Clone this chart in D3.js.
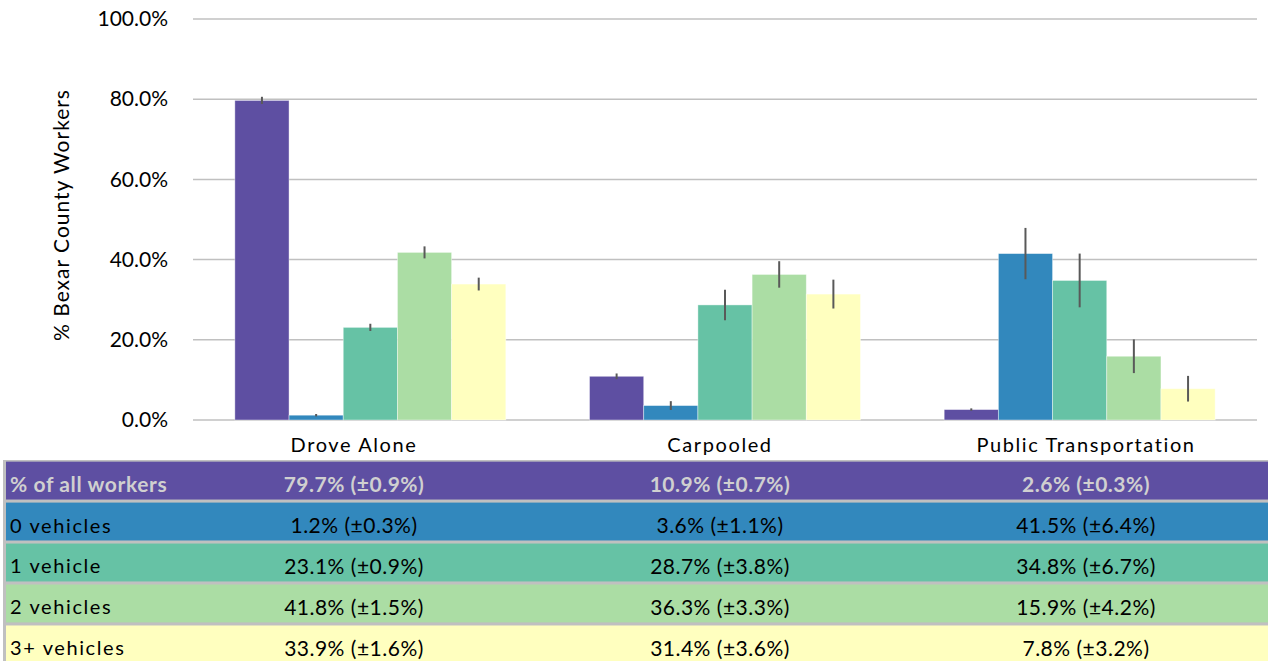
<!DOCTYPE html>
<html>
<head>
<meta charset="utf-8">
<script src="https://cdn.jsdelivr.net/npm/d3@7"></script>
<style>
  body { margin: 0; background: #fff; }
  svg { display: block; font-family: Lato, 'Open Sans', sans-serif; }
</style>
</head>
<body>
<svg width="1268" height="661"></svg>
<script>
// categories + series
const categories = ['Drove Alone', 'Carpooled', 'Public Transportation']
const series = ['% of all workers', '0 vehicles', '1 vehicle', '2 vehicles', '3+ vehicles']
const values = [
  [79.7, 1.2, 23.1, 41.8, 33.9],
  [10.9, 3.6, 28.7, 36.3, 31.4],
  [2.6, 41.5, 34.8, 15.9, 7.8]
]
const moe = [
  [0.9, 0.3, 0.9, 1.5, 1.6],
  [0.7, 1.1, 3.8, 3.3, 3.6],
  [0.3, 6.4, 6.7, 4.2, 3.2]
]
const yTicks = [0, 20, 40, 60, 80, 100]
const colors = ['#5e4fa2', '#3288bd', '#66c2a5', '#abdda4', '#ffffbf']

const svg = d3.select('svg')
const plot = {left: 193, right: 1257, top: 19, bottom: 420}

const x0 = d3.scaleBand()
  .domain(categories)
  .range([plot.left, plot.right])
  .paddingInner(0.236)
  .paddingOuter(0.118)

const x1 = d3.scaleBand()
  .domain(series)
  .range([0, x0.bandwidth()])

const y = d3.scaleLinear()
  .domain([0, 100])
  .range([plot.bottom, plot.top])

const z = d3.scaleOrdinal().domain(series).range(colors)

// gridlines
svg.append('g')
  .selectAll('line')
  .data(yTicks)
  .enter().append('line')
    .attr('x1', plot.left)
    .attr('x2', plot.right)
    .attr('y1', d => y(d))
    .attr('y2', d => y(d))
    .attr('stroke', '#c0c0c0')
    .attr('stroke-width', 1.5)

// y axis labels
const yAxis = svg.append('g')
  .attr('transform', 'translate(' + (plot.left - 22) + ',0)')
  .call(d3.axisLeft(y).tickValues(yTicks).tickSize(0).tickFormat(d => d.toFixed(1) + '%'))
yAxis.select('.domain').remove()
yAxis.selectAll('text')
  .attr('font-family', 'Lato, sans-serif')
  .attr('font-size', 21)
  .attr('fill', '#000')

svg.append('text')
  .attr('transform', 'translate(69,215) rotate(-90)')
  .attr('text-anchor', 'middle')
  .attr('font-size', 21)
  .attr('letter-spacing', 1)
  .text('% Bexar County Workers')

// bars
const groups = svg.append('g')
  .selectAll('g')
  .data(categories)
  .enter().append('g')
    .attr('transform', d => 'translate(' + x0(d) + ',0)')

const cells = groups.selectAll('g')
  .data((c, ci) => series.map((s, si) => ({key: s, value: values[ci][si], err: moe[ci][si]})))
  .enter().append('g')

cells.append('rect')
  .attr('x', d => x1(d.key))
  .attr('width', x1.bandwidth())
  .attr('y', d => y(d.value))
  .attr('height', d => y(0) - y(d.value))
  .attr('fill', d => z(d.key))
  .attr('stroke', 'rgba(255,255,255,0.5)')
  .attr('stroke-width', 0.8)

cells.append('line')
  .attr('x1', d => x1(d.key) + x1.bandwidth() / 2)
  .attr('x2', d => x1(d.key) + x1.bandwidth() / 2)
  .attr('y1', d => y(d.value + d.err))
  .attr('y2', d => y(d.value - d.err))
  .attr('stroke', '#595959')
  .attr('stroke-width', 2)

// data table
const tx = d3.scaleBand()
  .domain(categories)
  .range([171, 1269])

const ty = d3.scaleBand()
  .domain(series)
  .range([460, 665])
  .paddingInner(0.075)
  .paddingOuter(0.04)

svg.append('g')
  .selectAll('text')
  .data(categories)
  .enter().append('text')
    .attr('x', d => tx(d) + tx.bandwidth() / 2)
    .attr('y', 445)
    .attr('dy', '0.35em')
    .attr('text-anchor', 'middle')
    .attr('font-size', 20)
    .attr('letter-spacing', 1.6)
    .text(d => d)

svg.append('rect')
  .attr('x', 3)
  .attr('y', 460)
  .attr('width', 1265)
  .attr('height', 201)
  .attr('fill', '#c0c0c0')

const rows = svg.append('g')
  .selectAll('g')
  .data(series)
  .enter().append('g')
    .attr('transform', d => 'translate(0,' + ty(d) + ')')

rows.append('rect')
  .attr('x', 6)
  .attr('width', 1262)
  .attr('height', ty.bandwidth())
  .attr('fill', d => z(d))

rows.append('text')
  .attr('x', 10)
  .attr('y', ty.bandwidth() / 2 + 4)
  .attr('dy', '0.35em')
  .attr('font-size', (d, i) => i === 0 ? 21 : 20)
  .attr('font-weight', (d, i) => i === 0 ? 'bold' : 'normal')
  .attr('letter-spacing', (d, i) => i === 0 ? 0.6 : 1.6)
  .attr('fill', (d, i) => i === 0 ? '#d0d0d0' : '#000')
  .text(d => d)

rows.selectAll('text.val')
  .data((s, si) => categories.map((c, ci) => ({c: c, si: si, v: values[ci][si], e: moe[ci][si]})))
  .enter().append('text')
    .attr('class', 'val')
    .attr('x', d => tx(d.c) + tx.bandwidth() / 2)
    .attr('y', ty.bandwidth() / 2 + 4)
    .attr('dy', '0.35em')
    .attr('text-anchor', 'middle')
    .attr('font-size', 21)
    .attr('letter-spacing', 0.5)
    .attr('font-weight', d => d.si === 0 ? 'bold' : 'normal')
    .attr('fill', d => d.si === 0 ? '#d0d0d0' : '#000')
    .text(d => d.v.toFixed(1) + '% (±' + d.e.toFixed(1) + '%)')
</script>
</body>
</html>
